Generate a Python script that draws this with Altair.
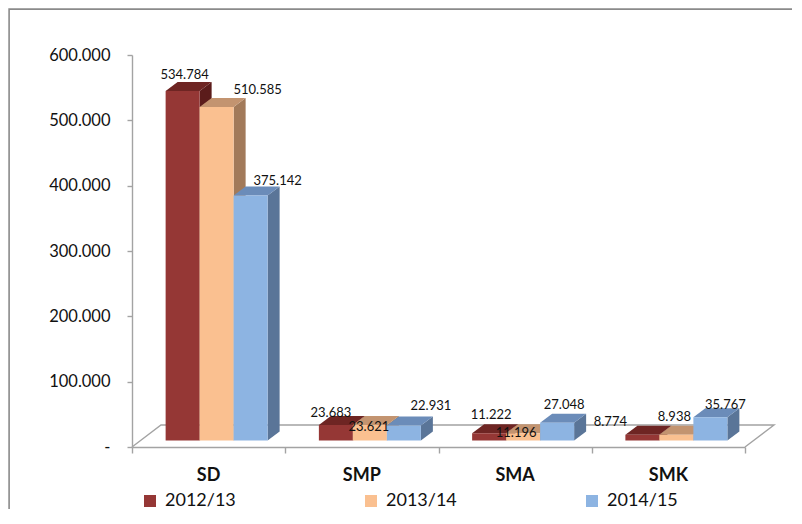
import altair as alt
import pandas as pd

# ---- data ----
categories = ["SD", "SMP", "SMA", "SMK"]
series = ["2012/13", "2013/14", "2014/15"]
v_2012_13 = [534784, 23683, 11222, 8774]
v_2013_14 = [510585, 23621, 11196, 8938]
v_2014_15 = [375142, 22931, 27048, 35767]
y_ticks = [0, 100000, 200000, 300000, 400000, 500000, 600000]

# ---- styles ----
front_colors = ["#953735", "#fac090", "#8db4e2"]
top_colors = ["#6e2523", "#c39470", "#6b8cb9"]
side_colors = ["#5b1c1b", "#a27a5a", "#5a7598"]
GRAY = "#a3a3a3"
FRAME = "#8a8a8a"
FONT = "Lato"

# label nudges in pixels, relative to the top-centre of each bar's front face
label_dx = [[2, 41, 27], [-5, -1, 27], [2, -7, 7], [-32, -2, 15]]
label_dy = [[-16, -17, -14], [-12, 2, -20], [-18, 0, -18], [-13, -18, -12]]

W, H = 613, 392
YMAX = 600000
NCAT = len(categories)
PXX = W / NCAT          # pixels per category unit
PXY = H / YMAX          # pixels per value unit
BAR = 34 / PXX          # bar width (category units)
OFF_X, OFF_Y = 8 / PXX, 6.5 / PXY      # bars sit a little back on the floor
DEP_X, DEP_Y = 12 / PXX, 9 / PXY       # bar depth
FLO_X, FLO_Y = 29 / PXX, 22 / PXY      # floor depth
PAD = {"left": 124, "top": 47, "right": 47, "bottom": 62}

values = [v_2012_13, v_2013_14, v_2014_15]

front, tops, sides, labels = [], [], [], []
fid = 0
for i, cat in enumerate(categories):
    for j, s in enumerate(series):
        v = values[j][i]
        x0 = i + 0.5 + (j - 1.5) * BAR + OFF_X
        x1 = x0 + BAR
        y0 = OFF_Y
        y1 = v + OFF_Y
        front.append({"series": s, "x0": x0, "x1": x1, "y0": y0, "y1": y1})
        tops.append({"face": fid, "fill": top_colors[j], "y": y1, "x": x0, "x2": x1})
        tops.append({"face": fid, "fill": top_colors[j], "y": y1 + DEP_Y,
                     "x": x0 + DEP_X, "x2": x1 + DEP_X})
        sides.append({"face": fid, "fill": side_colors[j], "x": x1, "y": y0, "y2": y1})
        sides.append({"face": fid, "fill": side_colors[j], "x": x1 + DEP_X,
                      "y": y0 + DEP_Y, "y2": y1 + DEP_Y})
        labels.append({"txt": f"{v:,}".replace(",", "."),
                       "x": (x0 + x1) / 2 + label_dx[i][j] / PXX,
                       "y": y1 - label_dy[i][j] / PXY})
        fid += 1

floor = pd.DataFrame({
    "o": [0, 1, 2, 3],
    "x": [0, FLO_X, NCAT + FLO_X, NCAT],
    "y": [0, FLO_Y, FLO_Y, 0],
})
cats = pd.DataFrame({"cat": categories, "x": [i + 0.5 for i in range(NCAT)], "y": [0] * NCAT})

xscale = alt.Scale(domain=[0, NCAT], nice=False, zero=False)
yscale = alt.Scale(domain=[0, YMAX], nice=False)
xaxis = alt.Axis(values=list(range(NCAT + 1)), labels=False, title=None, grid=False,
                 tickSize=6, tickColor=GRAY, domainColor=GRAY, domainWidth=1.4, tickWidth=1.4)
yaxis = alt.Axis(values=y_ticks, format=",.0f",
                 labelExpr="datum.value == 0 ? '-' : replace(datum.label, ',', '.')",
                 title=None, grid=False, tickSize=5, labelPadding=17,
                 tickColor=GRAY, domainColor=GRAY, domainWidth=1.4, tickWidth=1.4,
                 labelFont=FONT, labelFontSize=16.5, labelColor="#111111")

floor_layer = alt.Chart(floor).mark_line(color=GRAY, strokeWidth=1.4).encode(
    x=alt.X("x:Q", scale=xscale, axis=xaxis),
    y=alt.Y("y:Q", scale=yscale, axis=yaxis),
    order=alt.Order("o:Q"),
)

side_layer = alt.Chart(pd.DataFrame(sides)).mark_area(orient="vertical").encode(
    x=alt.X("x:Q", scale=xscale, axis=xaxis),
    y=alt.Y("y:Q", scale=yscale, axis=yaxis),
    y2="y2:Q",
    detail="face:N",
    fill=alt.Fill("fill:N", scale=None),
)

top_layer = alt.Chart(pd.DataFrame(tops)).mark_area(orient="horizontal").encode(
    y=alt.Y("y:Q", scale=yscale, axis=yaxis),
    x=alt.X("x:Q", scale=xscale, axis=xaxis),
    x2="x2:Q",
    detail="face:N",
    fill=alt.Fill("fill:N", scale=None),
)

front_layer = alt.Chart(pd.DataFrame(front)).mark_rect().encode(
    x=alt.X("x0:Q", scale=xscale, axis=xaxis),
    x2="x1:Q",
    y=alt.Y("y0:Q", scale=yscale, axis=yaxis),
    y2="y1:Q",
    color=alt.Color("series:N", scale=alt.Scale(domain=series, range=front_colors),
                    legend=alt.Legend(title=None, orient="none", legendX=9, legendY=437,
                                      direction="horizontal", symbolType="square",
                                      symbolSize=144, symbolStrokeWidth=0,
                                      labelFont=FONT, labelFontSize=18, labelColor="#111111",
                                      labelOffset=6, columnPadding=126, padding=0)),
)

label_layer = alt.Chart(pd.DataFrame(labels)).mark_text(
    font=FONT, fontSize=13, color="#111111", align="center", baseline="middle"
).encode(
    x=alt.X("x:Q", scale=xscale, axis=xaxis),
    y=alt.Y("y:Q", scale=yscale, axis=yaxis),
    text="txt:N",
)

cat_layer = alt.Chart(cats).mark_text(
    font=FONT, fontSize=18, fontWeight="bold", color="#111111",
    align="center", baseline="middle", dy=28.5
).encode(
    x=alt.X("x:Q", scale=xscale, axis=xaxis),
    y=alt.Y("y:Q", scale=yscale, axis=yaxis),
    text="cat:N",
)

# chart frame: an outline whose right and bottom edges fall outside the drawing,
# so only the top and left edges show
frame = alt.Chart(pd.DataFrame({"a": [0]})).mark_rect(
    fill="transparent", stroke=FRAME, strokeWidth=1.6
).encode(
    x=alt.value(1.1 - PAD["left"]), x2=alt.value(W + PAD["right"] + 60),
    y=alt.value(1.1 - PAD["top"]), y2=alt.value(H + PAD["bottom"] + 60),
)

chart = alt.layer(
    floor_layer, side_layer, top_layer, front_layer, label_layer, cat_layer, frame
).properties(
    width=W, height=H,
    autosize=alt.AutoSizeParams(type="none"),
    padding=PAD,
).configure_view(stroke=None, strokeWidth=0)

chart.save("out.html", embed_options={"renderer": "svg", "actions": False})
